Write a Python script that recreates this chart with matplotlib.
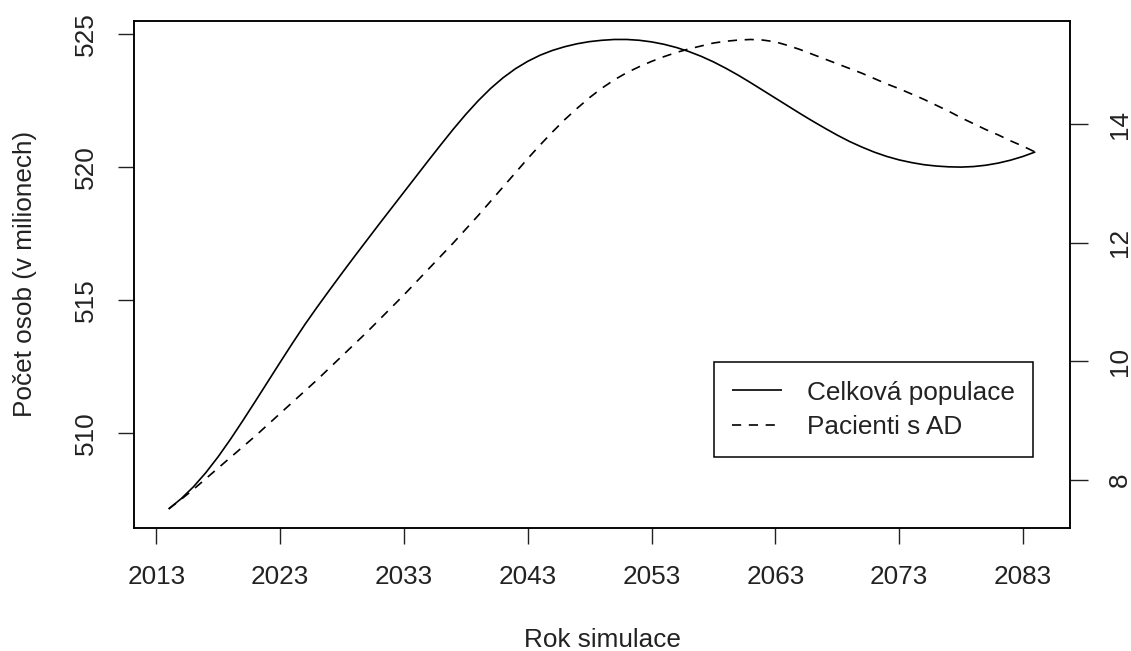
import matplotlib
matplotlib.use("Agg")
import matplotlib.pyplot as plt

plt.rcParams['font.family'] = ['Liberation Sans', 'DejaVu Sans']

# Simulation years
years = list(range(2014, 2085))

# Total population (millions), left axis
celkova_populace = [
    507.16, 507.54, 507.99, 508.52, 509.12, 509.78, 510.48, 511.20, 511.93, 512.66,
    513.38, 514.08, 514.74, 515.38, 516.01, 516.63, 517.24, 517.85, 518.45, 519.05,
    519.65, 520.25, 520.84, 521.42, 521.97, 522.48, 522.94, 523.34, 523.68, 523.96,
    524.19, 524.37, 524.51, 524.62, 524.70, 524.75, 524.78, 524.78, 524.75, 524.69,
    524.60, 524.48, 524.33, 524.15, 523.94, 523.70, 523.44, 523.16, 522.87, 522.58,
    522.29, 522.00, 521.72, 521.45, 521.19, 520.95, 520.74, 520.55, 520.39, 520.26,
    520.16, 520.08, 520.03, 520.00, 519.99, 520.01, 520.06, 520.14, 520.25, 520.39,
    520.56,
]

# Patients with AD (millions), right axis
pacienti_ad = [
    7.51, 7.67, 7.84, 8.02, 8.20, 8.38, 8.56, 8.74, 8.93, 9.12,
    9.31, 9.50, 9.69, 9.89, 10.09, 10.29, 10.49, 10.70, 10.91, 11.12,
    11.34, 11.56, 11.78, 12.00, 12.23, 12.46, 12.70, 12.94, 13.18, 13.42,
    13.65, 13.87, 14.08, 14.27, 14.45, 14.61, 14.75, 14.87, 14.97, 15.06,
    15.14, 15.21, 15.27, 15.32, 15.37, 15.40, 15.42, 15.43, 15.42, 15.39,
    15.33, 15.26, 15.18, 15.10, 15.02, 14.94, 14.86, 14.77, 14.68, 14.60,
    14.51, 14.42, 14.32, 14.22, 14.11, 14.01, 13.91, 13.82, 13.72, 13.63,
    13.53,
]

x_ticks = [2013, 2023, 2033, 2043, 2053, 2063, 2073, 2083]
left_ticks = [510, 515, 520, 525]
right_ticks = [8, 10, 12, 14]

label_x = "Rok simulace"
label_y = "Počet osob (v milionech)"
legend_labels = ["Celková populace", "Pacienti s AD"]

FS = 18.8
W, H = 1131, 651
TXT = '#222222'


def padded(vals):
    # 4 % extension on each side of the data range
    lo, hi = min(vals), max(vals)
    r = hi - lo
    return lo - 0.04 * r, hi + 0.04 * r


fig = plt.figure(figsize=(W / 100, H / 100), dpi=100)
left, right, top, bottom = 134, 1070, 20.7, 527.7
ax = fig.add_axes([left / W, 1 - bottom / H, (right - left) / W, (bottom - top) / H])
ax2 = ax.twinx()

l1, = ax.plot(years, celkova_populace, color='black', lw=1.2, solid_capstyle='butt')
l2, = ax2.plot(years, pacienti_ad, color='black', lw=1.2,
               linestyle=(0, (5.5, 4.6)), dash_capstyle='butt')

ax.set_xlim(*padded(years))
ax.set_ylim(*padded(celkova_populace))
ax2.set_ylim(*padded(pacienti_ad))

ax.set_xticks(x_ticks)
ax.set_yticks(left_ticks)
ax2.set_yticks(right_ticks)

for a in (ax, ax2):
    for s in a.spines.values():
        s.set_linewidth(1.1)
        s.set_color('black')

ax.tick_params(axis='x', length=11.6, width=1.0, pad=15, labelsize=FS, colors=TXT)
ax.tick_params(axis='y', length=11.8, width=1.0, pad=14.4, labelsize=FS,
               labelrotation=90, colors=TXT)
ax2.tick_params(axis='y', length=12.7, width=1.0, pad=14.4, labelsize=FS,
                labelrotation=90, colors=TXT)
for t in ax.get_yticklabels() + ax2.get_yticklabels():
    t.set_va('center')

fig.text(25 / W, 1 - (top + bottom) / 2 / H, label_y, rotation=90,
         ha='center', va='center', fontsize=FS, color=TXT)
fig.text((left + right) / 2 / W, 1 - 640 / H, label_x,
         ha='center', va='center', fontsize=FS, color=TXT)

leg = ax2.legend([l1, l2], legend_labels, loc='lower right',
                 bbox_to_anchor=(0.9608, 0.1389), borderaxespad=0,
                 fontsize=FS, frameon=True, fancybox=False, shadow=False,
                 framealpha=1, edgecolor='black', handlelength=1.92,
                 handletextpad=0.96, borderpad=0.7, labelspacing=0.4)
leg.get_frame().set_linewidth(1.1)
for t in leg.get_texts():
    t.set_color(TXT)

fig.savefig("out.png", dpi=100, facecolor='white')
